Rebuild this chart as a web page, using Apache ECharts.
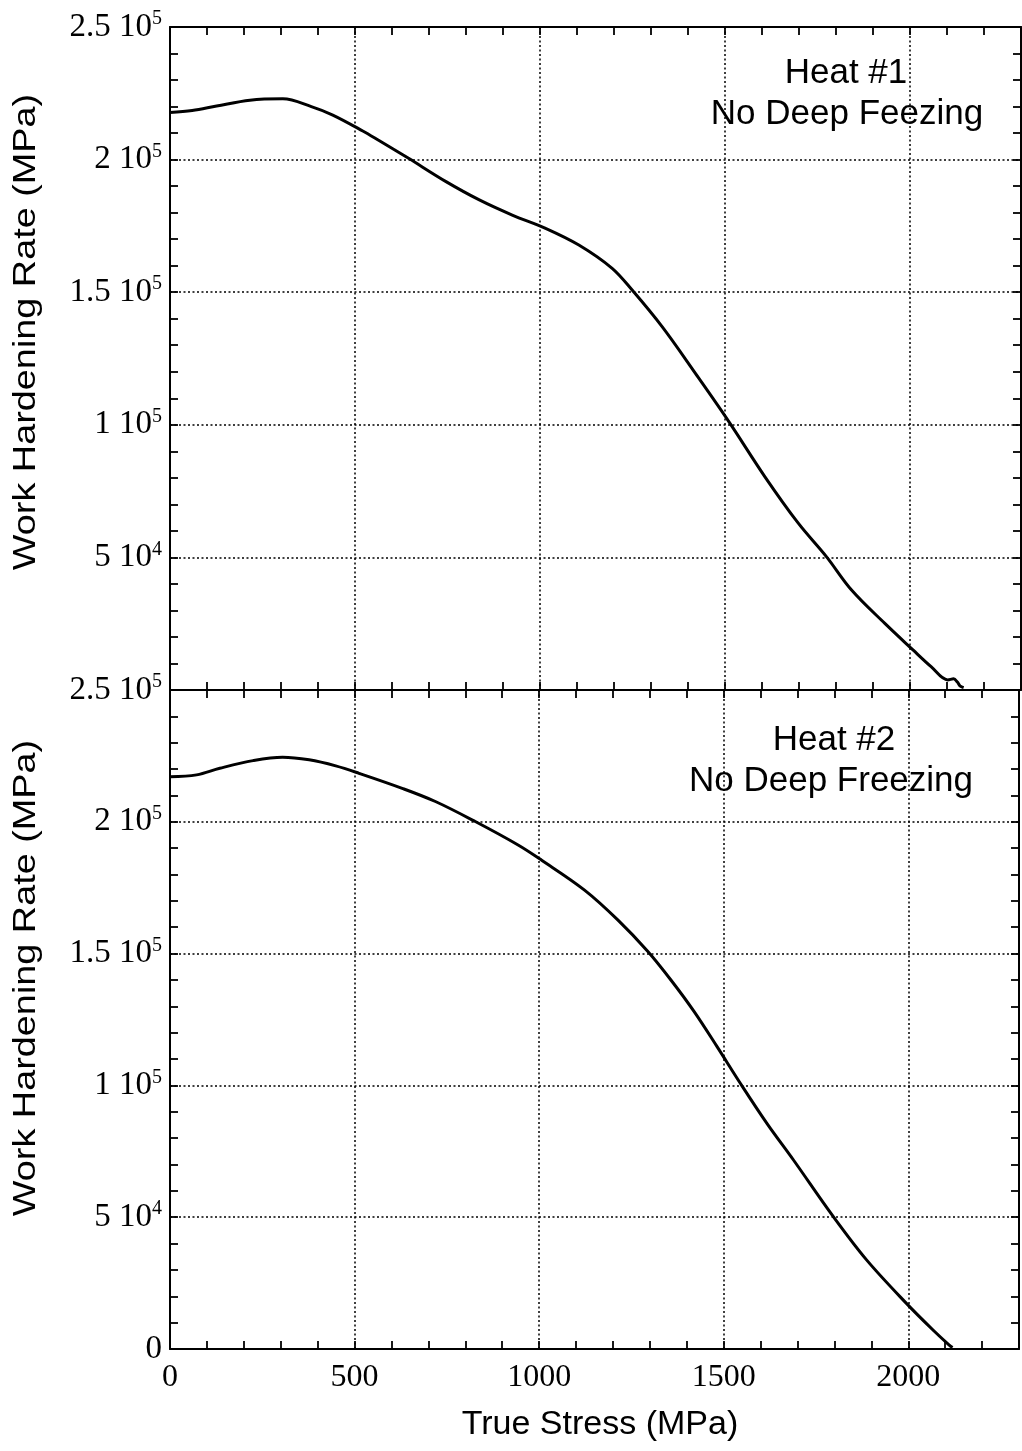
<!DOCTYPE html>
<html>
<head>
<meta charset="utf-8">
<script src="https://cdn.jsdelivr.net/npm/echarts@6/dist/echarts.min.js"></script>
<style>
html,body{margin:0;padding:0;background:#fff;}
#chart{width:1022px;height:1451px;}
</style>
</head>
<body>
<div id="chart"></div>
<script>
// ---- data ----
var heat1Stress = [0, 60, 126, 216, 305, 382, 440, 521, 566, 620, 647, 746, 836, 925, 1015, 1105, 1195, 1249, 1330, 1420, 1509, 1608, 1698, 1774, 1842, 1932, 2008, 2057, 2102, 2118, 2128, 2135, 2145];
var heat1Rate   = [217800, 218500, 220200, 222400, 222900, 220000, 216800, 210800, 207100, 202600, 200300, 191700, 184800, 179100, 174100, 167800, 159000, 150800, 137000, 119400, 101500, 80400, 62900, 50300, 37700, 25100, 15100, 8800, 3800, 4200, 3000, 1600, 900];

var heat2Stress = [0, 72, 135, 225, 305, 377, 449, 512, 629, 719, 827, 943, 1006, 1123, 1213, 1294, 1357, 1420, 1482, 1545, 1617, 1689, 1797, 1887, 1995, 2067, 2111, 2120];
var heat2Rate   = [217100, 217800, 220300, 223200, 224500, 223500, 221200, 218400, 212700, 207700, 200100, 191200, 185500, 174100, 162800, 150900, 140000, 128000, 114700, 100800, 85600, 71700, 50200, 33800, 17300, 7200, 1500, 600];

var yTickValues   = [0, 50000, 100000, 150000, 200000, 250000];
var yTickMantissa = ['0', '5 10', '1 10', '1.5 10', '2 10', '2.5 10'];
var yTickExponent = ['', '4', '5', '5', '5', '5'];
var xTickValues   = [0, 500, 1000, 1500, 2000];
var xTickLabels   = ['0', '500', '1000', '1500', '2000'];

var panelTitles = [['Heat #1', 'No Deep Feezing'], ['Heat #2', 'No Deep Freezing']];
var yAxisTitle = 'Work Hardening Rate (MPa)';
var xAxisTitle = 'True Stress (MPa)';

function pairs(xs, ys) { return xs.map(function (x, i) { return [x, ys[i]]; }); }

var serif = 'Liberation Serif';
var T = 'rgba(0,0,0,0)';
var splitColors = ['#000', T, T, T, T];
var dotted = [2, 2.5];

function xAxisFor(g, pos, main, labels) {
  return {
    gridIndex: g, type: 'value', min: 0, max: 2300, interval: 100, position: pos,
    axisLine: { show: true, onZero: false, lineStyle: { color: '#000', width: 2 } },
    axisTick: { show: true, inside: true, length: 8, lineStyle: { color: '#000', width: 1.8 } },
    axisLabel: {
      show: labels, margin: 13, color: '#000', fontFamily: serif, fontSize: 32,
      formatter: function (v) { var i = xTickValues.indexOf(v); return i >= 0 ? xTickLabels[i] : ''; }
    },
    splitLine: { show: main, lineStyle: { color: splitColors, type: dotted, width: 1.5 } }
  };
}
function yAxisFor(g, pos, main, labels, skipZero) {
  return {
    gridIndex: g, type: 'value', min: 0, max: 250000, interval: 10000, position: pos,
    axisLine: { show: true, onZero: false, lineStyle: { color: '#000', width: 2 } },
    axisTick: { show: true, inside: true, length: 8, lineStyle: { color: '#000', width: 1.8 } },
    axisLabel: {
      show: labels, margin: 8, color: '#000', fontFamily: serif, fontSize: 33,
      formatter: function (v) {
        var i = yTickValues.indexOf(v);
        if (i < 0) return '';
        if (skipZero && v === 0) return '';
        var s = '{a|' + yTickMantissa[i] + '}';
        if (yTickExponent[i]) s += '{s|' + yTickExponent[i] + '}';
        return s;
      },
      rich: {
        a: { fontFamily: serif, fontSize: 33, color: '#000', lineHeight: 36 },
        s: { fontFamily: serif, fontSize: 20, color: '#000', verticalAlign: 'top', lineHeight: 21 }
      }
    },
    splitLine: { show: main, lineStyle: { color: splitColors, type: dotted, width: 1.5 } }
  };
}

var chart = echarts.init(document.getElementById('chart'), null, { renderer: 'canvas' });

var option = {
  backgroundColor: '#fff',
  animation: false,
  grid: [
    { left: 170, top: 27, width: 851, height: 663 },
    { left: 170, top: 690, width: 851, height: 659 }
  ],
  xAxis: [
    xAxisFor(0, 'bottom', true, false),
    xAxisFor(0, 'top', false, false),
    xAxisFor(1, 'bottom', true, true),
    xAxisFor(1, 'top', false, false)
  ],
  yAxis: [
    yAxisFor(0, 'left', true, true, true),
    yAxisFor(0, 'right', false, false, false),
    yAxisFor(1, 'left', true, true, false),
    yAxisFor(1, 'right', false, false, false)
  ],
  series: [
    {
      type: 'line', xAxisIndex: 0, yAxisIndex: 0, data: pairs(heat1Stress, heat1Rate),
      showSymbol: false, smooth: 0.35, lineStyle: { color: '#000', width: 3 }, z: 5
    },
    {
      type: 'line', xAxisIndex: 2, yAxisIndex: 2, data: pairs(heat2Stress, heat2Rate),
      showSymbol: false, smooth: 0.35, lineStyle: { color: '#000', width: 3 }, z: 5
    }
  ],
  graphic: [
    { type: 'text', x: 846, y: 73, style: { text: panelTitles[0][0], font: '35px "Liberation Sans"', fill: '#000', textAlign: 'center', textVerticalAlign: 'middle' } },
    { type: 'text', x: 847, y: 114, style: { text: panelTitles[0][1], font: '35px "Liberation Sans"', fill: '#000', textAlign: 'center', textVerticalAlign: 'middle' } },
    { type: 'text', x: 834, y: 740, style: { text: panelTitles[1][0], font: '35px "Liberation Sans"', fill: '#000', textAlign: 'center', textVerticalAlign: 'middle' } },
    { type: 'text', x: 831, y: 781, style: { text: panelTitles[1][1], font: '35px "Liberation Sans"', fill: '#000', textAlign: 'center', textVerticalAlign: 'middle' } },
    { type: 'text', x: 26, y: 332, rotation: Math.PI / 2, scaleX: 1.22, style: { text: yAxisTitle, font: '31px "Liberation Sans"', fill: '#000', textAlign: 'center', textVerticalAlign: 'middle' } },
    { type: 'text', x: 26, y: 978, rotation: Math.PI / 2, scaleX: 1.22, style: { text: yAxisTitle, font: '31px "Liberation Sans"', fill: '#000', textAlign: 'center', textVerticalAlign: 'middle' } },
    { type: 'text', x: 600, y: 1425, style: { text: xAxisTitle, font: '34px "Liberation Sans"', fill: '#000', textAlign: 'center', textVerticalAlign: 'middle' } }
  ]
};
chart.setOption(option);
</script>
</body>
</html>
